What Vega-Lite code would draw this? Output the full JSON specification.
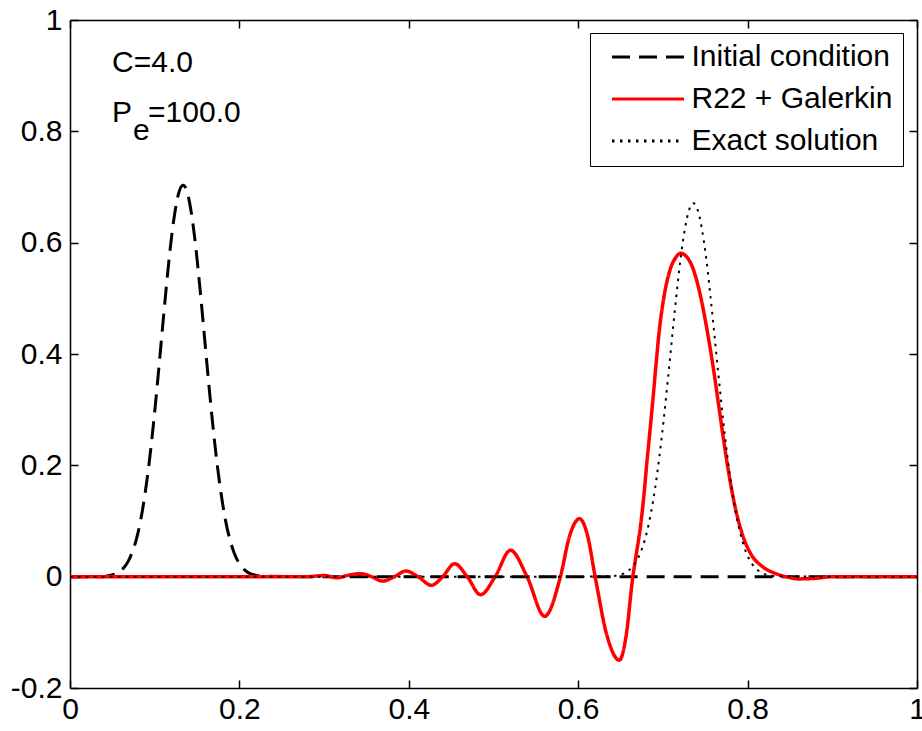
{
  "$schema": "https://vega.github.io/schema/vega-lite/v6.json",
  "width": 847,
  "height": 668,
  "autosize": {"type": "none"},
  "padding": {"left": 70, "top": 20, "right": 5, "bottom": 43},
  "background": "white",
  "config": {
    "font": "Liberation Sans",
    "view": {"stroke": null},
    "axis": {
      "grid": false,
      "title": null,
      "domainColor": "black",
      "domainWidth": 1.5,
      "tickColor": "black",
      "tickWidth": 1.5,
      "tickSize": -8,
      "labelFont": "Liberation Sans",
      "labelFontSize": 30,
      "labelColor": "black",
      "labelFlush": false,
      "labelOverlap": false
    },
    "legend": {
      "orient": "none",
      "legendX": 520,
      "legendY": 13,
      "title": null,
      "labelFont": "Liberation Sans",
      "labelFontSize": 30,
      "labelColor": "black",
      "labelLimit": 400,
      "symbolType": "stroke",
      "symbolSize": 5184,
      "symbolStrokeWidth": 3,
      "clipHeight": 28,
      "rowPadding": 12,
      "padding": 10,
      "symbolOffset": 10.5,
      "labelOffset": 6,
      "strokeColor": "black",
      "fillColor": "white",
      "cornerRadius": 0
    }
  },
  "data": {
    "values": [
      {"series": "Initial condition", "x": 0, "y": 0},
      {"series": "Initial condition", "x": 0.0385, "y": 0},
      {"series": "Initial condition", "x": 0.0485, "y": 0.0027},
      {"series": "Initial condition", "x": 0.0535, "y": 0.005},
      {"series": "Initial condition", "x": 0.0585, "y": 0.0093},
      {"series": "Initial condition", "x": 0.0635, "y": 0.016},
      {"series": "Initial condition", "x": 0.0685, "y": 0.027},
      {"series": "Initial condition", "x": 0.0735, "y": 0.044},
      {"series": "Initial condition", "x": 0.0785, "y": 0.068},
      {"series": "Initial condition", "x": 0.0835, "y": 0.102},
      {"series": "Initial condition", "x": 0.0885, "y": 0.148},
      {"series": "Initial condition", "x": 0.0935, "y": 0.205},
      {"series": "Initial condition", "x": 0.0985, "y": 0.274},
      {"series": "Initial condition", "x": 0.1035, "y": 0.352},
      {"series": "Initial condition", "x": 0.1085, "y": 0.435},
      {"series": "Initial condition", "x": 0.1135, "y": 0.517},
      {"series": "Initial condition", "x": 0.1185, "y": 0.592},
      {"series": "Initial condition", "x": 0.1235, "y": 0.651},
      {"series": "Initial condition", "x": 0.1285, "y": 0.69},
      {"series": "Initial condition", "x": 0.1335, "y": 0.703},
      {"series": "Initial condition", "x": 0.1385, "y": 0.69},
      {"series": "Initial condition", "x": 0.1435, "y": 0.651},
      {"series": "Initial condition", "x": 0.1485, "y": 0.592},
      {"series": "Initial condition", "x": 0.1535, "y": 0.517},
      {"series": "Initial condition", "x": 0.1585, "y": 0.435},
      {"series": "Initial condition", "x": 0.1635, "y": 0.352},
      {"series": "Initial condition", "x": 0.1685, "y": 0.274},
      {"series": "Initial condition", "x": 0.1735, "y": 0.205},
      {"series": "Initial condition", "x": 0.1785, "y": 0.148},
      {"series": "Initial condition", "x": 0.1835, "y": 0.102},
      {"series": "Initial condition", "x": 0.1885, "y": 0.068},
      {"series": "Initial condition", "x": 0.1935, "y": 0.044},
      {"series": "Initial condition", "x": 0.1985, "y": 0.027},
      {"series": "Initial condition", "x": 0.2035, "y": 0.016},
      {"series": "Initial condition", "x": 0.2085, "y": 0.0093},
      {"series": "Initial condition", "x": 0.2135, "y": 0.005},
      {"series": "Initial condition", "x": 0.2185, "y": 0.0027},
      {"series": "Initial condition", "x": 0.2285, "y": 0.0007},
      {"series": "Initial condition", "x": 0.3, "y": 0},
      {"series": "Initial condition", "x": 1, "y": 0},

      {"series": "R22 + Galerkin", "x": 0, "y": 0},
      {"series": "R22 + Galerkin", "x": 0.2, "y": 0},
      {"series": "R22 + Galerkin", "x": 0.28, "y": 0},
      {"series": "R22 + Galerkin", "x": 0.3, "y": 0.002},
      {"series": "R22 + Galerkin", "x": 0.315, "y": -0.002},
      {"series": "R22 + Galerkin", "x": 0.33, "y": 0.003},
      {"series": "R22 + Galerkin", "x": 0.3435, "y": 0.0054},
      {"series": "R22 + Galerkin", "x": 0.356, "y": 0},
      {"series": "R22 + Galerkin", "x": 0.369, "y": -0.008},
      {"series": "R22 + Galerkin", "x": 0.383, "y": 0},
      {"series": "R22 + Galerkin", "x": 0.3965, "y": 0.0102},
      {"series": "R22 + Galerkin", "x": 0.411, "y": 0},
      {"series": "R22 + Galerkin", "x": 0.4267, "y": -0.0155},
      {"series": "R22 + Galerkin", "x": 0.44, "y": 0},
      {"series": "R22 + Galerkin", "x": 0.454, "y": 0.0233},
      {"series": "R22 + Galerkin", "x": 0.469, "y": 0},
      {"series": "R22 + Galerkin", "x": 0.4847, "y": -0.0324},
      {"series": "R22 + Galerkin", "x": 0.502, "y": 0},
      {"series": "R22 + Galerkin", "x": 0.52, "y": 0.0474},
      {"series": "R22 + Galerkin", "x": 0.5396, "y": 0},
      {"series": "R22 + Galerkin", "x": 0.5604, "y": -0.0712},
      {"series": "R22 + Galerkin", "x": 0.579, "y": 0},
      {"series": "R22 + Galerkin", "x": 0.59, "y": 0.074},
      {"series": "R22 + Galerkin", "x": 0.6016, "y": 0.1042},
      {"series": "R22 + Galerkin", "x": 0.611, "y": 0.074},
      {"series": "R22 + Galerkin", "x": 0.62, "y": 0},
      {"series": "R22 + Galerkin", "x": 0.634, "y": -0.106},
      {"series": "R22 + Galerkin", "x": 0.6486, "y": -0.15},
      {"series": "R22 + Galerkin", "x": 0.6566, "y": -0.106},
      {"series": "R22 + Galerkin", "x": 0.6645, "y": 0},
      {"series": "R22 + Galerkin", "x": 0.668, "y": 0.035},
      {"series": "R22 + Galerkin", "x": 0.6735, "y": 0.09},
      {"series": "R22 + Galerkin", "x": 0.6775, "y": 0.145},
      {"series": "R22 + Galerkin", "x": 0.681, "y": 0.204},
      {"series": "R22 + Galerkin", "x": 0.6848, "y": 0.263},
      {"series": "R22 + Galerkin", "x": 0.6885, "y": 0.323},
      {"series": "R22 + Galerkin", "x": 0.692, "y": 0.383},
      {"series": "R22 + Galerkin", "x": 0.6958, "y": 0.443},
      {"series": "R22 + Galerkin", "x": 0.7013, "y": 0.503},
      {"series": "R22 + Galerkin", "x": 0.7084, "y": 0.551},
      {"series": "R22 + Galerkin", "x": 0.715, "y": 0.573},
      {"series": "R22 + Galerkin", "x": 0.721, "y": 0.581},
      {"series": "R22 + Galerkin", "x": 0.7329, "y": 0.563},
      {"series": "R22 + Galerkin", "x": 0.745, "y": 0.5},
      {"series": "R22 + Galerkin", "x": 0.7525, "y": 0.44},
      {"series": "R22 + Galerkin", "x": 0.759, "y": 0.38},
      {"series": "R22 + Galerkin", "x": 0.765, "y": 0.317},
      {"series": "R22 + Galerkin", "x": 0.7705, "y": 0.258},
      {"series": "R22 + Galerkin", "x": 0.7765, "y": 0.198},
      {"series": "R22 + Galerkin", "x": 0.7835, "y": 0.138},
      {"series": "R22 + Galerkin", "x": 0.793, "y": 0.08},
      {"series": "R22 + Galerkin", "x": 0.803, "y": 0.043},
      {"series": "R22 + Galerkin", "x": 0.8176, "y": 0.018},
      {"series": "R22 + Galerkin", "x": 0.8313, "y": 0.0066},
      {"series": "R22 + Galerkin", "x": 0.845, "y": 0},
      {"series": "R22 + Galerkin", "x": 0.86, "y": -0.004},
      {"series": "R22 + Galerkin", "x": 0.88, "y": -0.003},
      {"series": "R22 + Galerkin", "x": 0.9, "y": 0},
      {"series": "R22 + Galerkin", "x": 1, "y": 0},

      {"series": "Exact solution", "x": 0, "y": 0},
      {"series": "Exact solution", "x": 0.6, "y": 0},
      {"series": "Exact solution", "x": 0.636, "y": 0.0006},
      {"series": "Exact solution", "x": 0.646, "y": 0.0022},
      {"series": "Exact solution", "x": 0.656, "y": 0.0074},
      {"series": "Exact solution", "x": 0.661, "y": 0.0128},
      {"series": "Exact solution", "x": 0.666, "y": 0.0213},
      {"series": "Exact solution", "x": 0.671, "y": 0.0342},
      {"series": "Exact solution", "x": 0.676, "y": 0.0532},
      {"series": "Exact solution", "x": 0.681, "y": 0.0797},
      {"series": "Exact solution", "x": 0.686, "y": 0.1154},
      {"series": "Exact solution", "x": 0.691, "y": 0.161},
      {"series": "Exact solution", "x": 0.696, "y": 0.2174},
      {"series": "Exact solution", "x": 0.701, "y": 0.283},
      {"series": "Exact solution", "x": 0.706, "y": 0.356},
      {"series": "Exact solution", "x": 0.711, "y": 0.432},
      {"series": "Exact solution", "x": 0.716, "y": 0.506},
      {"series": "Exact solution", "x": 0.721, "y": 0.573},
      {"series": "Exact solution", "x": 0.726, "y": 0.625},
      {"series": "Exact solution", "x": 0.731, "y": 0.659},
      {"series": "Exact solution", "x": 0.736, "y": 0.671},
      {"series": "Exact solution", "x": 0.741, "y": 0.659},
      {"series": "Exact solution", "x": 0.746, "y": 0.625},
      {"series": "Exact solution", "x": 0.751, "y": 0.573},
      {"series": "Exact solution", "x": 0.756, "y": 0.506},
      {"series": "Exact solution", "x": 0.761, "y": 0.432},
      {"series": "Exact solution", "x": 0.766, "y": 0.356},
      {"series": "Exact solution", "x": 0.771, "y": 0.283},
      {"series": "Exact solution", "x": 0.776, "y": 0.2174},
      {"series": "Exact solution", "x": 0.781, "y": 0.161},
      {"series": "Exact solution", "x": 0.786, "y": 0.1154},
      {"series": "Exact solution", "x": 0.791, "y": 0.0797},
      {"series": "Exact solution", "x": 0.796, "y": 0.0532},
      {"series": "Exact solution", "x": 0.801, "y": 0.0342},
      {"series": "Exact solution", "x": 0.806, "y": 0.0213},
      {"series": "Exact solution", "x": 0.811, "y": 0.0128},
      {"series": "Exact solution", "x": 0.816, "y": 0.0074},
      {"series": "Exact solution", "x": 0.826, "y": 0.0022},
      {"series": "Exact solution", "x": 0.836, "y": 0.0006},
      {"series": "Exact solution", "x": 0.9, "y": 0},
      {"series": "Exact solution", "x": 1, "y": 0}
    ]
  },
  "resolve": {"axis": {"x": "independent", "y": "independent"}},
  "layer": [
    {
      "transform": [{"filter": "datum.series === 'Initial condition'"}],
      "mark": {"type": "line", "strokeWidth": 3, "interpolate": "monotone", "strokeCap": "butt"},
      "encoding": {
        "x": {"field": "x", "type": "quantitative", "scale": {"domain": [0, 1], "nice": false, "zero": false},
              "axis": {"orient": "bottom", "values": [0, 0.2, 0.4, 0.6, 0.8, 1], "labelPadding": 14, "labelExpr": "'' + datum.value"}},
        "y": {"field": "y", "type": "quantitative", "scale": {"domain": [-0.2, 1], "nice": false, "zero": false},
              "axis": {"orient": "left", "values": [-0.2, 0, 0.2, 0.4, 0.6, 0.8, 1], "labelPadding": 16, "labelExpr": "'' + datum.value"}},
        "color": {"field": "series", "type": "nominal",
                  "scale": {"domain": ["Initial condition", "R22 + Galerkin", "Exact solution"], "range": ["black", "red", "black"]}},
        "strokeDash": {"field": "series", "type": "nominal",
                  "scale": {"domain": ["Initial condition", "R22 + Galerkin", "Exact solution"], "range": [[18, 9], [1, 0], [2.5, 5.5]]}}
      }
    },
    {
      "transform": [{"filter": "datum.series === 'R22 + Galerkin'"}],
      "mark": {"type": "line", "strokeWidth": 3.5, "interpolate": "monotone"},
      "encoding": {
        "x": {"field": "x", "type": "quantitative", "axis": null},
        "y": {"field": "y", "type": "quantitative", "axis": null},
        "color": {"field": "series", "type": "nominal"},
        "strokeDash": {"field": "series", "type": "nominal"}
      }
    },
    {
      "transform": [{"filter": "datum.series === 'Exact solution'"}],
      "mark": {"type": "line", "strokeWidth": 2, "interpolate": "monotone", "strokeCap": "butt"},
      "encoding": {
        "x": {"field": "x", "type": "quantitative",
              "axis": {"orient": "top", "values": [0, 0.2, 0.4, 0.6, 0.8, 1], "labels": false}},
        "y": {"field": "y", "type": "quantitative",
              "axis": {"orient": "right", "values": [-0.2, 0, 0.2, 0.4, 0.6, 0.8, 1], "labels": false}},
        "color": {"field": "series", "type": "nominal"},
        "strokeDash": {"field": "series", "type": "nominal"}
      }
    },
    {
      "data": {"values": [{"label": "C=4.0"}]},
      "mark": {"type": "text", "align": "left", "baseline": "alphabetic", "fontSize": 30, "font": "Liberation Sans", "color": "black"},
      "encoding": {
        "x": {"datum": 0.0496, "type": "quantitative", "axis": null},
        "y": {"datum": 0.906, "type": "quantitative", "axis": null},
        "text": {"field": "label"}
      }
    },
    {
      "data": {"values": [{"label": "P"}]},
      "mark": {"type": "text", "align": "left", "baseline": "alphabetic", "fontSize": 30, "font": "Liberation Sans", "color": "black"},
      "encoding": {
        "x": {"datum": 0.0496, "type": "quantitative", "axis": null},
        "y": {"datum": 0.8168, "type": "quantitative", "axis": null},
        "text": {"field": "label"}
      }
    },
    {
      "data": {"values": [{"label": "e"}]},
      "mark": {"type": "text", "align": "left", "baseline": "alphabetic", "fontSize": 30, "font": "Liberation Sans", "color": "black"},
      "encoding": {
        "x": {"datum": 0.0745, "type": "quantitative", "axis": null},
        "y": {"datum": 0.7844, "type": "quantitative", "axis": null},
        "text": {"field": "label"}
      }
    },
    {
      "data": {"values": [{"label": "=100.0"}]},
      "mark": {"type": "text", "align": "left", "baseline": "alphabetic", "fontSize": 30, "font": "Liberation Sans", "color": "black"},
      "encoding": {
        "x": {"datum": 0.0922, "type": "quantitative", "axis": null},
        "y": {"datum": 0.8168, "type": "quantitative", "axis": null},
        "text": {"field": "label"}
      }
    }
  ]
}
